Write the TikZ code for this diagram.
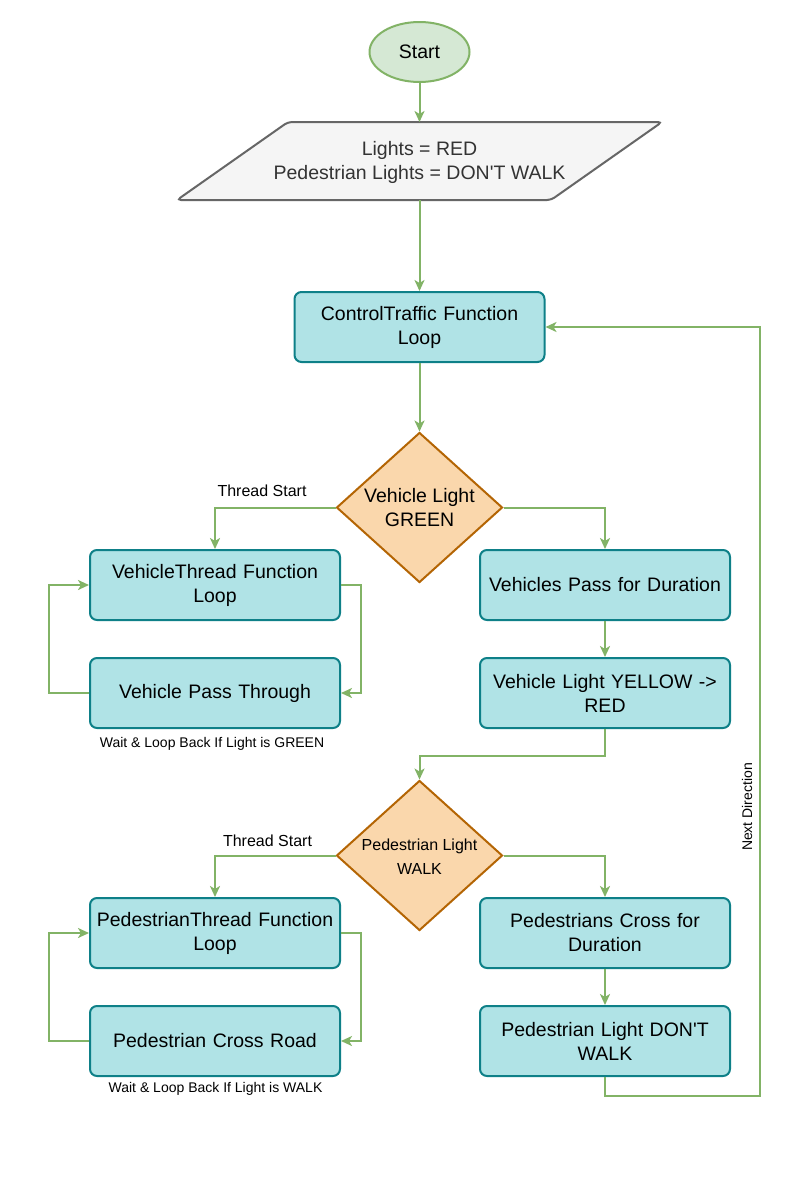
\documentclass[tikz,border=0pt]{standalone}
\usepackage{fontspec}
\setmainfont{Liberation Sans}
\usetikzlibrary{arrows.meta,shapes.geometric}
\definecolor{boxfill}{HTML}{B0E3E6}
\definecolor{boxdraw}{HTML}{0E8088}
\definecolor{dfill}{HTML}{FAD7AC}
\definecolor{ddraw}{HTML}{B46504}
\definecolor{sfill}{HTML}{D5E8D4}
\definecolor{sdraw}{HTML}{82B366}
\definecolor{pfill}{HTML}{F5F5F5}
\definecolor{pdraw}{HTML}{666666}
\definecolor{ptext}{HTML}{333333}
\begin{document}
\begin{tikzpicture}[x=1pt,y=-1pt,
  bigtext/.style={font=\fontsize{19.5}{24}\selectfont},
  proc/.style={draw=boxdraw, fill=boxfill, line width=2pt, rounded corners=7pt,
    minimum width=250pt, minimum height=70pt, text width=246pt, align=center,
    inner sep=0pt, bigtext},
  dec/.style={diamond, draw=ddraw, fill=dfill, line width=2pt,
    minimum width=166pt, minimum height=150pt, inner sep=0pt},
  flow/.style={draw=sdraw, line width=2pt, -{Stealth[length=11pt,width=10pt,inset=3pt]}},
  lbl/.style={font=\fontsize{16}{19}\selectfont, inner sep=0pt},
  note/.style={font=\fontsize{14}{17}\selectfont, inner sep=0pt},
]
\useasboundingbox (0,0) rectangle (800,1200);
\fill[white] (0,0) rectangle (800,1200);

% start
\node[ellipse, draw=sdraw, fill=sfill, line width=2pt, minimum width=100pt,
  minimum height=60pt, inner sep=0pt, bigtext] (start) at (419.5,52) {Start};

% init parallelogram
\draw[draw=pdraw, fill=pfill, line width=2pt, rounded corners=4pt]
  (177,200) -- (288,122) -- (662,122) -- (551,200) -- cycle;
\node[align=center, text=ptext, bigtext, inner sep=0pt] (init) at (419.5,162)
  {Lights = RED\\Pedestrian Lights = DON\textquotesingle T WALK};
\coordinate (initN) at (419.5,122);
\coordinate (initS) at (419.5,200);

% process boxes
\node[proc] (ctrl) at (419.5,327) {ControlTraffic Function\\Loop};

\node[dec] (d1) at (419.5,507.5) {};
\node[bigtext, align=center, inner sep=0pt] (d1t) at (419.5,508) {Vehicle Light\\GREEN};

\node[proc] (vt)  at (215,585) {VehicleThread Function\\Loop};
\node[proc] (vpt) at (215,693) {Vehicle Pass Through};
\node[proc] (vpd) at (605,585) {Vehicles Pass for Duration};
\node[proc] (vy)  at (605,693) {Vehicle Light YELLOW -\textgreater\\RED};

\node[dec] (d2) at (419.5,855.5) {};
\node[font=\fontsize{16}{24}\selectfont, align=center, inner sep=0pt] (d2t) at (419.5,857) {Pedestrian Light\\WALK};

\node[proc] (pt)  at (215,933) {PedestrianThread Function\\Loop};
\node[proc] (pcr) at (215,1041) {Pedestrian Cross Road};
\node[proc] (pcd) at (605,933) {Pedestrians Cross for\\Duration};
\node[proc] (pdw) at (605,1041) {Pedestrian Light DON\textquotesingle T\\WALK};

% labels
\node[lbl] (ts1) at (262,491) {Thread Start};
\node[lbl] (ts2) at (267.5,841) {Thread Start};
\node[note] (w1) at (212,744) {Wait \& Loop Back If Light is GREEN};
\node[note] (w2) at (215.5,1089) {Wait \& Loop Back If Light is WALK};
\node[note, rotate=90] (nd) at (747,807) {Next Direction};

% connectors
\draw[flow] (start.south) -- (initN);
\draw[flow] (initS) -- (ctrl.north);
\draw[flow] (ctrl.south) -- (d1.north);
\draw[flow] (d1.west) -| (vt.north);
\draw[flow] (d1.east) -| (vpd.north);
\draw[flow] (vt.east) -- ++(20,0) |- (vpt.east);
\draw[flow] (vpt.west) -- ++(-40,0) |- (vt.west);
\draw[flow] (vpd.south) -- (vy.north);
\draw[flow] (vy.south) -- ++(0,27) -| (d2.north);
\draw[flow] (d2.west) -| (pt.north);
\draw[flow] (d2.east) -| (pcd.north);
\draw[flow] (pt.east) -- ++(20,0) |- (pcr.east);
\draw[flow] (pcr.west) -- ++(-40,0) |- (pt.west);
\draw[flow] (pcd.south) -- (pdw.north);
\coordinate (back) at (760,1096);
\draw[flow] (pdw.south) |- (back) |- (ctrl.east);
\end{tikzpicture}
\end{document}
